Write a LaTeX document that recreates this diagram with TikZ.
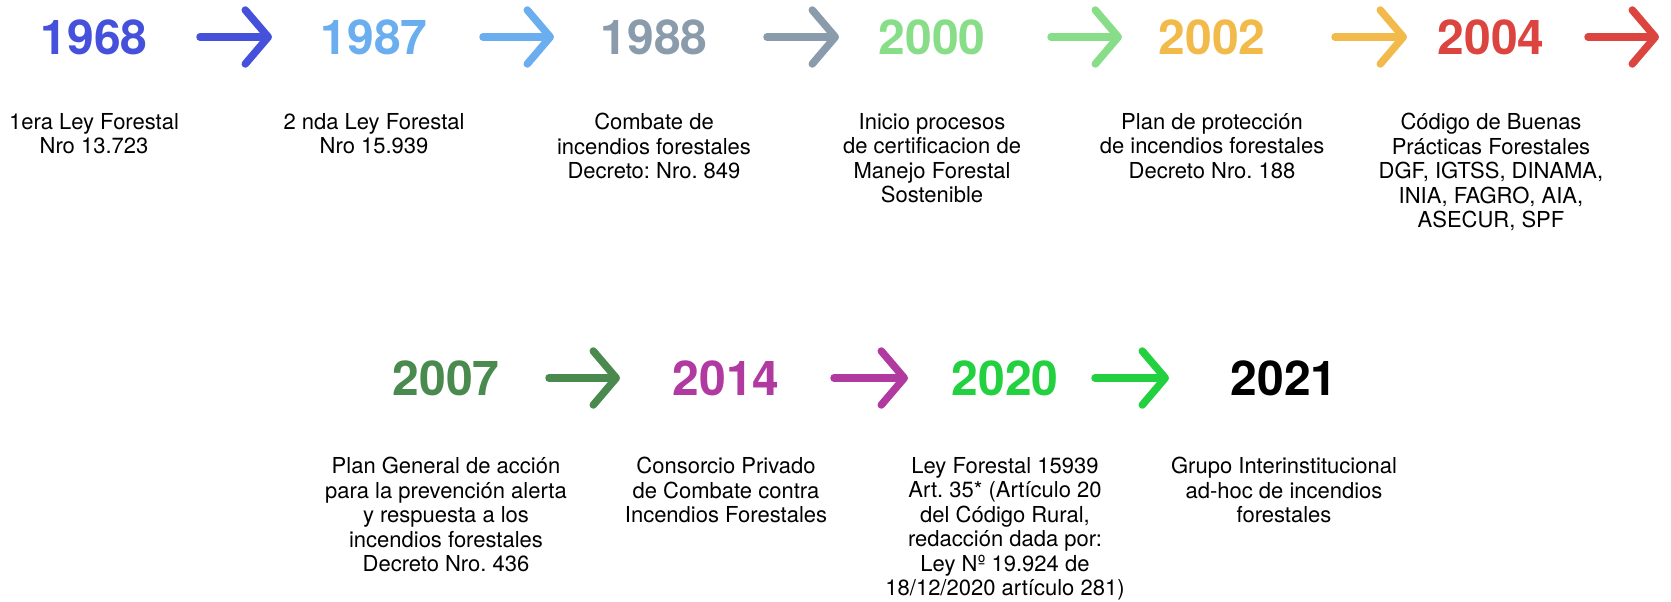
\documentclass[tikz,border=0pt]{standalone}
\usepackage{fontspec}
\setmainfont{TeX Gyre Heros}
\usetikzlibrary{arrows.meta}
\frenchspacing
\definecolor{c1968}{HTML}{4651DB}
\definecolor{c1987}{HTML}{6AAEF0}
\definecolor{c1988}{HTML}{8A9BAB}
\definecolor{c2000}{HTML}{88DD88}
\definecolor{c2002}{HTML}{F2BA4A}
\definecolor{c2004}{HTML}{DC4440}
\definecolor{c2007}{HTML}{4A8A4F}
\definecolor{c2014}{HTML}{B03AA0}
\definecolor{c2020}{HTML}{22D040}
\definecolor{c2021}{HTML}{000000}
\tikzset{
  year/.style={font=\fontsize{48}{50}\selectfont\bfseries, inner sep=0pt},
  desc/.style={font=\fontsize{22}{24.5}\selectfont, align=center, anchor=north, inner sep=0pt},
  tl/.style={line width=7.5pt, line cap=round,
    -{Straight Barb[length=23pt, width=54pt, line cap=round, line join=round]}},
}
\begin{document}
\begin{tikzpicture}[x=1pt, y=-1pt]
\useasboundingbox (0,0) rectangle (1671,602);
% years
\foreach \n/\x/\y in {1968/94/37,1987/374/37,1988/654/37,2000/932/37,2002/1212/37,2004/1491/37,
                      2007/446/378,2014/726/378,2020/1005/378,2021/1284/378}
  \node[year, text=c\n] (y\n) at (\x,\y) {\n};
% texts
\node[desc] (d1968) at (94,113) {1era Ley Forestal\\Nro 13.723};
\node[desc] (d1987) at (374,113) {2 nda Ley Forestal\\Nro 15.939};
\node[desc] (d1988) at (654,113) {Combate de\\incendios forestales\\Decreto: Nro. 849};
\node[desc] (d2000) at (932,113) {Inicio procesos\\de certificacion de\\Manejo Forestal\\Sostenible};
\node[desc] (d2002) at (1212,113) {Plan de protección\\de incendios forestales\\Decreto Nro. 188};
\node[desc] (d2004) at (1491,113) {Código de Buenas\\Prácticas Forestales\\DGF, IGTSS, DINAMA,\\INIA, FAGRO, AIA,\\ASECUR, SPF};
\node[desc] (d2007) at (446,457) {Plan General de acción\\para la prevención alerta\\y respuesta a los\\incendios forestales\\Decreto Nro. 436};
\node[desc] (d2014) at (726,457) {Consorcio Privado\\de Combate contra\\Incendios Forestales};
\node[desc] (d2020) at (1005,457) {Ley Forestal 15939\\ Art. 35* (Artículo 20\\del Código Rural,\\redacción dada por:\\Ley Nº 19.924 de\\18/12/2020 artículo 281)};
\node[desc] (d2021) at (1284,457) {Grupo Interinstitucional\\ad-hoc de incendios\\forestales};
% arrows
\coordinate (tend) at (1659,37);
\foreach \a/\b/\s/\e in {1968/1987/106/102,1987/1988/109/100,1988/2000/113/93,2000/2002/119/90,
                         2002/2004/123/84,2007/2014/103/106,2014/2020/108/97,2020/2021/90/115}
  \draw[tl, c\a, shorten <=\s pt, shorten >=\e pt] (y\a.center) -- (y\b.center);
\draw[tl, c2004, shorten <=97pt] (y2004.center) -- (tend);
\end{tikzpicture}
\end{document}
